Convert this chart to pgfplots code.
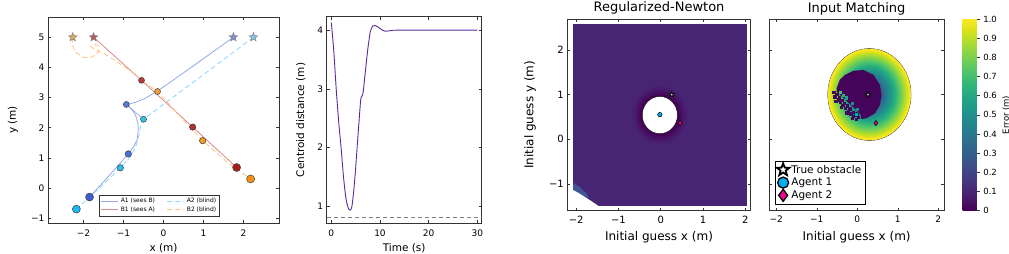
\documentclass[border=0pt]{standalone}
\usepackage{pgfplots}
\pgfplotsset{compat=1.18}
\usepackage{fontspec}
\setmainfont{DejaVu Sans}

\definecolor{aline}{HTML}{93A8EA}
\definecolor{a2line}{HTML}{8AD8F5}
\definecolor{bline}{HTML}{D98A8A}
\definecolor{b2line}{HTML}{FFC47F}
\definecolor{bgpurple}{HTML}{482475}
\definecolor{cpurple}{HTML}{5A2A9A}
\definecolor{blobc}{HTML}{44045A}
\definecolor{cornerblue}{HTML}{3F5595}
\definecolor{edgegray}{HTML}{CFC89A}

\pgfdeclareplotmark{fstar}{%
  \pgfpathmoveto{\pgfpointpolar{90}{\pgfplotmarksize}}%
  \pgfpathlineto{\pgfpointpolar{126}{0.42\pgfplotmarksize}}%
  \pgfpathlineto{\pgfpointpolar{162}{\pgfplotmarksize}}%
  \pgfpathlineto{\pgfpointpolar{198}{0.42\pgfplotmarksize}}%
  \pgfpathlineto{\pgfpointpolar{234}{\pgfplotmarksize}}%
  \pgfpathlineto{\pgfpointpolar{270}{0.42\pgfplotmarksize}}%
  \pgfpathlineto{\pgfpointpolar{306}{\pgfplotmarksize}}%
  \pgfpathlineto{\pgfpointpolar{342}{0.42\pgfplotmarksize}}%
  \pgfpathlineto{\pgfpointpolar{18}{\pgfplotmarksize}}%
  \pgfpathlineto{\pgfpointpolar{54}{0.42\pgfplotmarksize}}%
  \pgfpathclose
  \pgfusepathqfillstroke
}

\pgfplotsset{
  panel/.style={scale only axis, anchor=south west,
    axis line style={line width=0.6pt, black!80},
    every tick/.style={line width=0.5pt, black!80},
    tick align=inside, major tick length=3pt},
}

\begin{document}
\begin{tikzpicture}
\useasboundingbox (0pt,0pt) rectangle (1009pt,254pt);

% ---------------- Panel 1: trajectories ----------------
\begin{axis}[panel, at={(48pt,31pt)}, width=231pt, height=206pt,
  xmin=-2.89, xmax=2.89, ymin=-1.16, ymax=5.67,
  xtick={-2,-1,0,1,2}, xticklabels={−2,−1,0,1,2},
  ytick={-1,0,1,2,3,4,5}, yticklabels={−1,0,1,2,3,4,5},
  ticklabel style={font=\fontsize{9}{10}\selectfont},
  xticklabel style={yshift=-3pt},
  xlabel={x (m)}, ylabel={y (m)},
  label style={font=\fontsize{10.5}{12}\selectfont},
  xlabel style={at={(axis description cs:0.5,-0.1214)}, anchor=center},
  ylabel style={at={(axis description cs:-0.1515,0.5)}, anchor=center},
  legend columns=2, legend cell align=left,
  legend style={at={(0.222,0.031)}, anchor=south west,
    font=\fontsize{6}{7}\selectfont, draw=black!80, inner sep=1.5pt, row sep=-1.5pt,
    /tikz/every even column/.append style={column sep=10pt}},
]
\addplot[aline, line width=0.8pt] coordinates {
(1.75,5.0) (0.8,4.1) (0.0,3.35) (-0.2,3.18) (-0.45,2.98) (-0.7,2.84) (-0.93,2.77)
(-0.8,2.62) (-0.7,2.42) (-0.64,2.15) (-0.63,1.9) (-0.66,1.6) (-0.74,1.38) (-0.88,1.13)
(-1.4,0.35) (-1.85,-0.3)};
\addlegendentry{A1 (sees B)}
\addplot[a2line, line width=0.8pt, dash pattern=on 5pt off 3pt] coordinates {
(2.25,5.0) (1.0,3.76) (-0.5,2.28) (-0.58,2.0) (-0.62,1.7) (-0.7,1.35) (-0.85,1.0)
(-1.08,0.67) (-1.6,0.0) (-2.18,-0.7)};
\addlegendentry{A2 (blind)}
\addplot[bline, line width=0.8pt] coordinates {
(-1.75,5.0) (-0.55,3.57) (0.73,2.02) (1.83,0.68)};
\addlegendentry{B1 (sees A)}
\addplot[b2line, line width=0.8pt, dash pattern=on 5pt off 3pt] coordinates {
(-2.27,5.0) (-2.28,4.75) (-2.2,4.5) (-2.0,4.33) (-1.82,4.32) (-1.66,4.45) (-1.6,4.65)
(-1.7,4.76) (-1.82,4.7) (-1.72,4.58) (-1.5,4.47) (-1.2,4.22) (-0.85,3.9) (-0.5,3.52)
(-0.15,3.2) (0.4,2.4) (0.98,1.57) (1.6,0.85) (2.18,0.3)};
\addlegendentry{B2 (blind)}
\addplot[aline, line width=0.7pt, forget plot] coordinates {(-0.93,2.77) (-0.5,2.28)};
% stars
\addplot[only marks, mark=fstar, mark size=4.5pt, mark options={fill={rgb,255:red,127;green,143;blue,216}, draw=gray, line width=0.5pt}, forget plot] coordinates {(1.75,5.0)};
\addplot[only marks, mark=fstar, mark size=4.5pt, mark options={fill={rgb,255:red,126;green,203;blue,239}, draw=gray, line width=0.5pt}, forget plot] coordinates {(2.25,5.0)};
\addplot[only marks, mark=fstar, mark size=4.5pt, mark options={fill={rgb,255:red,192;green,85;blue,90}, draw=gray, line width=0.5pt}, forget plot] coordinates {(-1.75,5.0)};
\addplot[only marks, mark=fstar, mark size=4.5pt, mark options={fill={rgb,255:red,232;green,168;blue,90}, draw=gray, line width=0.5pt}, forget plot] coordinates {(-2.27,5.0)};
% snapshot circles
\addplot[only marks, mark=*, mark size=3pt, mark options={fill={rgb,255:red,184;green,58;blue,58}, draw=black!75, line width=0.5pt}, forget plot] coordinates {(-0.55,3.57)};
\addplot[only marks, mark=*, mark size=3.2pt, mark options={fill={rgb,255:red,176;green,48;blue,48}, draw=black!75, line width=0.5pt}, forget plot] coordinates {(0.73,2.02)};
\addplot[only marks, mark=*, mark size=4pt, mark options={fill={rgb,255:red,168;green,28;blue,28}, draw=black!75, line width=0.5pt}, forget plot] coordinates {(1.83,0.68)};
\addplot[only marks, mark=*, mark size=3pt, mark options={fill={rgb,255:red,245;green,160;blue,48}, draw=black!75, line width=0.5pt}, forget plot] coordinates {(-0.15,3.2)};
\addplot[only marks, mark=*, mark size=3.2pt, mark options={fill={rgb,255:red,245;green,154;blue,32}, draw=black!75, line width=0.5pt}, forget plot] coordinates {(0.98,1.57)};
\addplot[only marks, mark=*, mark size=4pt, mark options={fill={rgb,255:red,245;green,144;blue,16}, draw=black!75, line width=0.5pt}, forget plot] coordinates {(2.18,0.3)};
\addplot[only marks, mark=*, mark size=3pt, mark options={fill={rgb,255:red,90;green,125;blue,220}, draw=black!75, line width=0.5pt}, forget plot] coordinates {(-0.93,2.77)};
\addplot[only marks, mark=*, mark size=3.2pt, mark options={fill={rgb,255:red,74;green,110;blue,216}, draw=black!75, line width=0.5pt}, forget plot] coordinates {(-0.88,1.13)};
\addplot[only marks, mark=*, mark size=4pt, mark options={fill={rgb,255:red,58;green,95;blue,213}, draw=black!75, line width=0.5pt}, forget plot] coordinates {(-1.85,-0.3)};
\addplot[only marks, mark=*, mark size=3pt, mark options={fill={rgb,255:red,46;green,196;blue,240}, draw=black!75, line width=0.5pt}, forget plot] coordinates {(-0.5,2.28)};
\addplot[only marks, mark=*, mark size=3.2pt, mark options={fill={rgb,255:red,41;green,189;blue,240}, draw=black!75, line width=0.5pt}, forget plot] coordinates {(-1.08,0.67)};
\addplot[only marks, mark=*, mark size=4pt, mark options={fill={rgb,255:red,26;green,184;blue,245}, draw=black!75, line width=0.5pt}, forget plot] coordinates {(-2.18,-0.7)};
\end{axis}

% ---------------- Panel 2: centroid distance ----------------
\begin{axis}[panel, at={(326.7pt,30.7pt)}, width=155pt, height=206.6pt,
  xmin=-0.95, xmax=30.9, ymin=0.705, ymax=4.23,
  xtick={0,10,20,30}, xticklabels={0,10,20,30},
  ytick={1,2,3,4}, yticklabels={1,2,3,4},
  ticklabel style={font=\fontsize{9}{10}\selectfont},
  xticklabel style={yshift=-3pt},
  xlabel={Time (s)}, ylabel={Centroid distance (m)},
  label style={font=\fontsize{10.5}{12}\selectfont},
  xlabel style={at={(axis description cs:0.5,-0.1196)}, anchor=center},
  ylabel style={at={(axis description cs:-0.1677,0.5)}, anchor=center},
]
\addplot[cpurple, line width=0.9pt, smooth, tension=0.4] coordinates {
(0,4.13) (0.5,3.65) (1.0,3.0) (1.5,2.45) (2.0,2.0) (2.5,1.5) (3.0,1.13) (3.5,0.96)
(3.85,0.93) (4.2,0.98) (4.6,1.25) (5.0,1.65) (5.3,2.0) (5.7,2.45) (6.0,2.78) (6.15,2.86)
(6.5,2.92) (7.0,3.3) (7.5,3.68) (8.0,3.97) (8.5,4.07) (9.0,4.08) (9.5,4.06) (10.0,4.03)
(10.5,4.0) (11.0,3.985) (11.5,3.985) (12.5,3.995) (14,4.0) (30,4.0)};
\addplot[gray, line width=0.8pt, dash pattern=on 4pt off 3pt] coordinates {(-0.95,0.8) (30.9,0.8)};
\end{axis}

% ---------------- Panel 3: Regularized-Newton ----------------
\begin{axis}[panel, at={(567.3pt,43.3pt)}, width=183.4pt, height=191.7pt,
  xmin=-2.21, xmax=2.13, ymin=-1.6, ymax=2.69,
  xtick={-2,-1,0,1,2}, xticklabels={−2,−1,0,1,2},
  ytick={-1,0,1,2}, yticklabels={−1,0,1,2},
  ticklabel style={font=\fontsize{10}{12}\selectfont},
  xticklabel style={yshift=-2pt},
  xlabel={Initial guess x (m)}, ylabel={Initial guess y (m)},
  label style={font=\fontsize{12}{14}\selectfont},
  xlabel style={at={(axis description cs:0.5,-0.1398)}, anchor=center},
  ylabel style={at={(axis description cs:-0.2034,0.5)}, anchor=center},
  title={Regularized-Newton},
  title style={font=\fontsize{13}{15}\selectfont, at={(axis description cs:0.5,1)}, anchor=base, yshift=1.7pt},
  colormap/viridis, point meta min=0, point meta max=1,
  clip marker paths=true,
  scatter/use mapped color={draw=mapped color, fill=mapped color},
  axis on top,
]
\addplot[fill=bgpurple, draw=none] coordinates {(-2.07,-1.49) (2.04,-1.49) (2.04,2.58) (-2.07,2.58)};
\addplot[scatter, only marks, mark=*, scatter src=explicit,
  visualization depends on={42.258*\thisrow{r} \as \rr},
  scatter/@pre marker code/.append style={/tikz/mark size=\rr},
  mark options={yscale=1.0574, line width=0.3pt}]
  table[x=x, y=y, meta=c] {
x y r c
-0.02 0.54 0.70 0.1
-0.02 0.54 0.67 0.095
-0.02 0.54 0.64 0.088
-0.02 0.54 0.61 0.078
-0.02 0.54 0.58 0.066
-0.02 0.54 0.55 0.052
-0.02 0.54 0.52 0.037
-0.02 0.54 0.49 0.022
-0.02 0.54 0.46 0.008
-0.02 0.54 0.44 0.0
};
\addplot[only marks, mark=*, mark size=17.6pt, mark options={yscale=1.0574, fill=white, draw=none}] coordinates {(-0.02,0.54)};
\addplot[fill=cornerblue, draw=none] coordinates {(-2.07,-0.98) (-1.9,-1.08) (-1.75,-1.22) (-1.7,-1.32) (-1.8,-1.3) (-1.95,-1.2) (-2.07,-1.15)};
\addplot[fill=white, draw=none] coordinates {(-2.07,-1.49) (-2.07,-1.14) (-1.95,-1.2) (-1.8,-1.29) (-1.65,-1.38) (-1.48,-1.49)};
\addplot[only marks, mark=fstar, mark size=2.8pt, mark options={fill=gray!40, draw=black, line width=0.7pt}] coordinates {(0.26,1.0)};
\addplot[only marks, mark=*, mark size=2.2pt, mark options={fill=cyan, draw=black, line width=0.5pt}] coordinates {(-0.02,0.55)};
\addplot[only marks, mark=diamond*, mark size=2.6pt, mark options={fill=magenta, draw=black, line width=0.5pt}] coordinates {(0.46,0.36)};
\end{axis}

% ---------------- Panel 4: Input Matching ----------------
\begin{axis}[panel, at={(769pt,43.3pt)}, width=175.3pt, height=191.7pt,
  xmin=-2.18, xmax=2.15, ymin=-1.6, ymax=2.69,
  xtick={-2,-1,0,1,2}, xticklabels={−2,−1,0,1,2},
  ytick={-1,0,1,2}, yticklabels={},
  ticklabel style={font=\fontsize{9}{10}\selectfont},
  xticklabel style={yshift=-2pt},
  xlabel={Initial guess x (m)},
  label style={font=\fontsize{12}{14}\selectfont},
  xlabel style={at={(axis description cs:0.5,-0.1372)}, anchor=center},
  title={Input Matching},
  title style={font=\fontsize{13}{15}\selectfont, at={(axis description cs:0.5,1)}, anchor=base, yshift=0.8pt},
  colormap/viridis, point meta min=0, point meta max=1,
  clip marker paths=true,
  scatter/use mapped color={draw=mapped color, fill=mapped color},
  colorbar,
  colorbar style={
    at={(parent axis.north east)}, anchor=north west, xshift=9.7pt,
    scale only axis, width=14.3pt, height=191.7pt,
    ytick={0,0.1,0.2,0.3,0.4,0.5,0.6,0.7,0.8,0.9,1},
    yticklabels={0,0.1,0.2,0.3,0.4,0.5,0.6,0.7,0.8,0.9,1.0},
    yticklabel style={font=\fontsize{8.5}{10}\selectfont},
    ylabel={Error (m)},
    ylabel style={font=\fontsize{8.5}{10}\selectfont, at={(axis description cs:3.056,0.5)}, anchor=center},
    axis line style={draw=none},
    major tick length=3pt, tick align=outside, ytick pos=right, yticklabel pos=right,
    every tick/.style={line width=0.5pt, black!80},
  },
  legend cell align=left,
  legend image code/.code={\draw[#1] plot coordinates {(0.2cm,0cm)};},
  legend style={at={(0.034,0.035)}, anchor=south west,
    font=\fontsize{10.5}{12}\selectfont, draw=black, inner sep=1.8pt, row sep=-0.5pt},
  axis on top,
]
\addlegendimage{only marks, mark=fstar, mark size=6.5pt, mark options={fill=white, draw=black, line width=1.8pt}}
\addlegendentry{True obstacle}
\addlegendimage{only marks, mark=*, mark size=5.5pt, mark options={fill=cyan, draw=black, line width=1.3pt}}
\addlegendentry{Agent 1}
\addlegendimage{only marks, mark=diamond*, mark size=6pt, mark options={fill=magenta, draw=black, line width=1.3pt}}
\addlegendentry{Agent 2}
\addplot[only marks, mark=*, mark size=41.6pt, mark options={yscale=1.1037, fill=edgegray, draw=none}, forget plot] coordinates {(0.3,1.0)};
\addplot[scatter, only marks, mark=*, scatter src=explicit,
  visualization depends on={40.485*\thisrow{r} \as \rr},
  scatter/@pre marker code/.append style={/tikz/mark size=\rr},
  mark options={yscale=1.1037, line width=0.3pt}, forget plot]
  table[x=x, y=y, meta=c] {
x y r c
0.3 1.0 1.02 1.0
0.3 1.0 0.98 0.96
0.3 1.0 0.94 0.92
0.3 1.0 0.90 0.88
0.3 1.0 0.86 0.84
0.3 1.0 0.82 0.80
0.3 1.0 0.78 0.76
0.3 1.0 0.74 0.72
0.3 1.0 0.70 0.68
0.3 1.0 0.66 0.64
0.3 1.0 0.62 0.60
0.3 1.0 0.58 0.56
0.3 1.0 0.54 0.52
0.3 1.0 0.50 0.48
0.3 1.0 0.46 0.44
0.3 1.0 0.42 0.40
0.3 1.0 0.38 0.36
0.3 1.0 0.34 0.32
0.3 1.0 0.30 0.28
0.3 1.0 0.26 0.24
0.3 1.0 0.22 0.20
0.3 1.0 0.18 0.16
0.3 1.0 0.14 0.12
0.3 1.0 0.10 0.08
0.3 1.0 0.06 0.04
};
\addplot[fill=blobc, draw=none, forget plot] coordinates {
(-0.1,1.53) (0.15,1.55) (0.4,1.44) (0.56,1.21) (0.6,0.99) (0.56,0.77) (0.44,0.58)
(0.23,0.47) (0.1,0.45) (0.08,0.55) (-0.05,0.68) (-0.2,0.8) (-0.35,0.93) (-0.51,1.06)
(-0.51,1.14) (-0.43,1.33) (-0.3,1.44)};
\addplot[scatter, only marks, mark=square*, mark size=1.2pt, scatter src=explicit,
  mark options={line width=0pt}, forget plot]
  table[x=x, y=y, meta=c] {
x y c
-0.578 1.051 0.02
-0.549 0.944 0.02
-0.444 0.925 0.02
-0.526 0.837 0.02
-0.418 0.818 0.02
-0.310 0.799 0.02
-0.392 0.711 0.02
-0.284 0.692 0.02
-0.176 0.673 0.02
-0.258 0.585 0.02
-0.150 0.566 0.02
-0.042 0.547 0.02
-0.124 0.459 0.02
-0.016 0.440 0.02
0.025 0.484 0.02
-0.46 0.88 0.02
-0.35 0.75 0.02
-0.22 0.62 0.02
-0.10 0.51 0.02
-0.50 1.00 0.02
-0.38 0.86 0.02
-0.24 0.74 0.02
-0.09 0.60 0.02
-0.42 1.04 0.72
-0.27 0.92 0.58
-0.12 0.80 0.50
0.00 0.66 0.46
-0.34 0.98 0.64
};
\addplot[only marks, mark=fstar, mark size=2.8pt, mark options={fill=gray!40, draw=black, line width=0.7pt}, forget plot] coordinates {(0.26,1.0)};
\addplot[only marks, mark=*, mark size=2.2pt, mark options={fill=cyan, draw=black, line width=0.5pt}, forget plot] coordinates {(-0.02,0.55)};
\addplot[only marks, mark=diamond*, mark size=2.6pt, mark options={fill=magenta, draw=black, line width=0.5pt}, forget plot] coordinates {(0.46,0.36)};
\end{axis}
\end{tikzpicture}
\end{document}
